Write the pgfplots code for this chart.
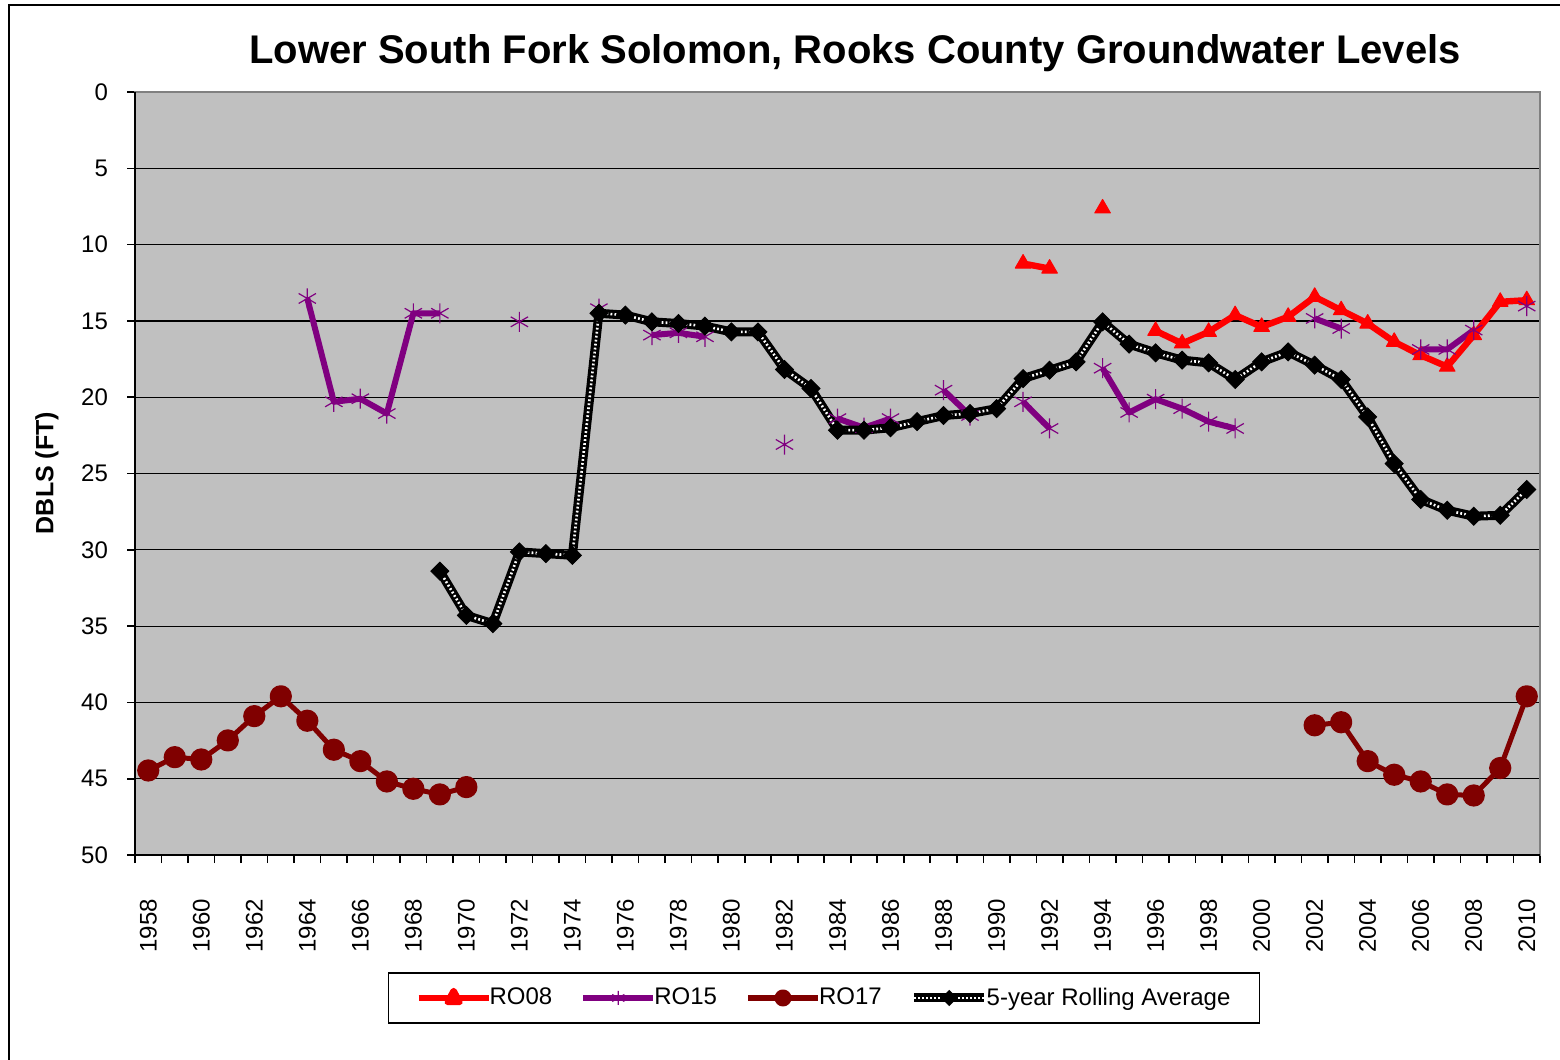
\documentclass[border=0pt]{standalone}
\usepackage{pgfplots}
\pgfplotsset{compat=1.18}
\usepackage{fontspec}
\setmainfont{Liberation Sans}
\definecolor{bggray}{RGB}{192,192,192}
\definecolor{ropurple}{RGB}{128,0,128}
\definecolor{rodark}{RGB}{128,0,0}
\begin{document}
\begin{tikzpicture}[x=1pt,y=1pt]
\useasboundingbox (0,0) rectangle (780,530);
\fill[white] (0,0) rectangle (780,530);
\draw[black,line width=1.2pt] (4.5,0) -- (4.5,527.5) -- (780,527.5);
\node[font=\bfseries\fontsize{20}{24}\selectfont] at (427.5,503.5) {Lower South Fork Solomon, Rooks County Groundwater Levels};
\node[rotate=90,font=\bfseries\fontsize{12.5}{15}\selectfont] at (23.5,293.5) {DBLS (FT)};
\begin{axis}[
  at={(67.5pt,102.5pt)}, anchor=south west, scale only axis,
  width=702.5pt, height=381.5pt,
  xmin=1957.5, xmax=2010.5, ymin=0, ymax=50, y dir=reverse,
  axis background/.style={fill=bggray},
  axis line style={draw=gray, line width=0.6pt},
  unbounded coords=jump,
  ytick={0,5,...,50},
  xtick={1958,1960,...,2010},
  minor xtick={1957.5,1958.5,...,2010.5},
  tick align=outside, tick pos=left,
  major tick length=4pt, minor tick length=4pt,
  major x tick style={draw=none},
  minor x tick style={draw=black,line width=0.8pt},
  major y tick style={draw=black,line width=0.8pt},
  ymajorgrids, major grid style={black,line width=0.6pt},
  /pgf/number format/assume math mode=true,
  /pgf/number format/1000 sep={},
  ticklabel style={font=\fontsize{12}{14}\selectfont},
  xticklabel style={rotate=90,anchor=east},
  xticklabel shift=14.5pt,
  yticklabel shift=6pt,
  legend style={at={(axis description cs:0.4904,-0.1874)}, anchor=center,
    legend columns=4, draw=black, line width=0.8pt,
    font=\fontsize{12}{14}\selectfont, inner xsep=13.5pt, inner ysep=5.5pt,
    nodes={inner xsep=1pt},
    /tikz/every odd column/.append style={column sep=-2pt},
    /tikz/every even column/.append style={column sep=13pt}},
  extra description/.code={\draw[black,line width=1pt] (axis description cs:0,1) -- (axis description cs:0,0) -- (axis description cs:1,0);},
]
% RO08
\addplot[red, line width=3.2pt, line join=round, mark=triangle*, mark size=4.5pt, mark options={solid,line width=0.5pt},
  legend image code/.code={\draw[red,line width=3pt] (0pt,0pt)--(35pt,0pt); \fill[red] (17.5pt,3.5pt)--(20.5pt,-2pt)--(14.5pt,-2pt)--cycle;}] coordinates {
(1991,11.24)(1992,11.57)(1993,nan)(1994,7.63)(1995,nan)(1996,15.65)(1997,16.48)(1998,15.72)(1999,14.62)(2000,15.39)(2001,14.73)(2002,13.42)(2003,14.3)(2004,15.17)(2005,16.37)(2006,17.25)(2007,18.0)(2008,15.93)(2009,13.75)(2010,13.64)};
\addlegendentry{RO08}
% RO15
\addplot[ropurple, line width=3pt, line join=round, mark=asterisk, mark size=5pt, mark options={solid,line width=0.6pt},
  legend image code/.code={\draw[ropurple,line width=3pt] (0pt,0pt)--(35pt,0pt); \draw[ropurple,line width=0.4pt] (17.5pt,0pt) plot[mark=asterisk,mark size=3.5pt] coordinates {(17.5pt,0pt)};}] coordinates {
(1964,13.53)(1965,20.3)(1966,20.1)(1967,21.07)(1968,14.5)(1969,14.5)(1970,nan)(1972,15.06)(1973,nan)(1975,14.2)(1976,nan)(1977,15.93)(1978,15.78)(1979,16.04)(1980,nan)(1982,23.1)(1983,nan)(1984,21.4)(1985,22.0)(1986,21.4)(1987,nan)(1988,19.54)(1989,21.2)(1990,nan)(1991,20.3)(1992,22.05)(1993,nan)(1994,18.1)(1995,21.0)(1996,20.13)(1997,20.75)(1998,21.6)(1999,22.05)(2000,nan)(2002,14.84)(2003,15.5)(2004,nan)(2006,16.87)(2007,16.87)(2008,15.6)(2009,nan)(2010,14.03)};
\addlegendentry{RO15}
% RO17
\addplot[rodark, line width=2.5pt, line join=round, mark=*, mark size=4.3pt, mark options={solid},
  legend image code/.code={\draw[rodark,line width=3pt] (0pt,0pt)--(35pt,0pt); \fill[rodark] (17.5pt,0pt) circle (3pt);}] coordinates {
(1958,44.46)(1959,43.59)(1960,43.74)(1961,42.49)(1962,40.9)(1963,39.6)(1964,41.2)(1965,43.1)(1966,43.85)(1967,45.18)(1968,45.66)(1969,46.03)(1970,45.55)(1971,nan)
(2002,41.5)(2003,41.3)(2004,43.85)(2005,44.74)(2006,45.18)(2007,46.03)(2008,46.1)(2009,44.3)(2010,39.6)};
\addlegendentry{RO17}
% 5-year rolling average
\addplot[black, line width=4.5pt, line join=round, forget plot] coordinates {
(1969,31.4)(1970,34.3)(1971,34.84)(1972,30.14)(1973,30.25)(1974,30.36)(1975,14.5)(1976,14.62)(1977,15.06)(1978,15.17)(1979,15.34)(1980,15.72)(1981,15.72)(1982,18.18)(1983,19.43)(1984,22.16)(1985,22.16)(1986,22.0)(1987,21.6)(1988,21.2)(1989,21.07)(1990,20.75)(1991,18.78)(1992,18.23)(1993,17.68)(1994,15.06)(1995,16.52)(1996,17.09)(1997,17.57)(1998,17.75)(1999,18.84)(2000,17.68)(2001,17.03)(2002,17.9)(2003,18.84)(2004,21.29)(2005,24.35)(2006,26.7)(2007,27.41)(2008,27.8)(2009,27.74)(2010,26.05)};
\addplot[white, line width=1.3pt, line join=round, dash pattern=on 0.9pt off 1.1pt, forget plot] coordinates {
(1969,31.4)(1970,34.3)(1971,34.84)(1972,30.14)(1973,30.25)(1974,30.36)(1975,14.5)(1976,14.62)(1977,15.06)(1978,15.17)(1979,15.34)(1980,15.72)(1981,15.72)(1982,18.18)(1983,19.43)(1984,22.16)(1985,22.16)(1986,22.0)(1987,21.6)(1988,21.2)(1989,21.07)(1990,20.75)(1991,18.78)(1992,18.23)(1993,17.68)(1994,15.06)(1995,16.52)(1996,17.09)(1997,17.57)(1998,17.75)(1999,18.84)(2000,17.68)(2001,17.03)(2002,17.9)(2003,18.84)(2004,21.29)(2005,24.35)(2006,26.7)(2007,27.41)(2008,27.8)(2009,27.74)(2010,26.05)};
\addplot[black, only marks, mark=square*, mark size=3.2pt, mark options={rotate=45},
  legend image code/.code={\draw[black,line width=4.5pt] (0pt,0pt)--(35pt,0pt); \draw[white,line width=1.3pt,dash pattern=on 0.9pt off 1.1pt] (0pt,0pt)--(35pt,0pt); \fill[black] (17.5pt,3.5pt)--(21pt,0pt)--(17.5pt,-3.5pt)--(14pt,0pt)--cycle;}] coordinates {
(1969,31.4)(1970,34.3)(1971,34.84)(1972,30.14)(1973,30.25)(1974,30.36)(1975,14.5)(1976,14.62)(1977,15.06)(1978,15.17)(1979,15.34)(1980,15.72)(1981,15.72)(1982,18.18)(1983,19.43)(1984,22.16)(1985,22.16)(1986,22.0)(1987,21.6)(1988,21.2)(1989,21.07)(1990,20.75)(1991,18.78)(1992,18.23)(1993,17.68)(1994,15.06)(1995,16.52)(1996,17.09)(1997,17.57)(1998,17.75)(1999,18.84)(2000,17.68)(2001,17.03)(2002,17.9)(2003,18.84)(2004,21.29)(2005,24.35)(2006,26.7)(2007,27.41)(2008,27.8)(2009,27.74)(2010,26.05)};
\addlegendentry{5-year Rolling Average}
\end{axis}
\end{tikzpicture}
\end{document}
